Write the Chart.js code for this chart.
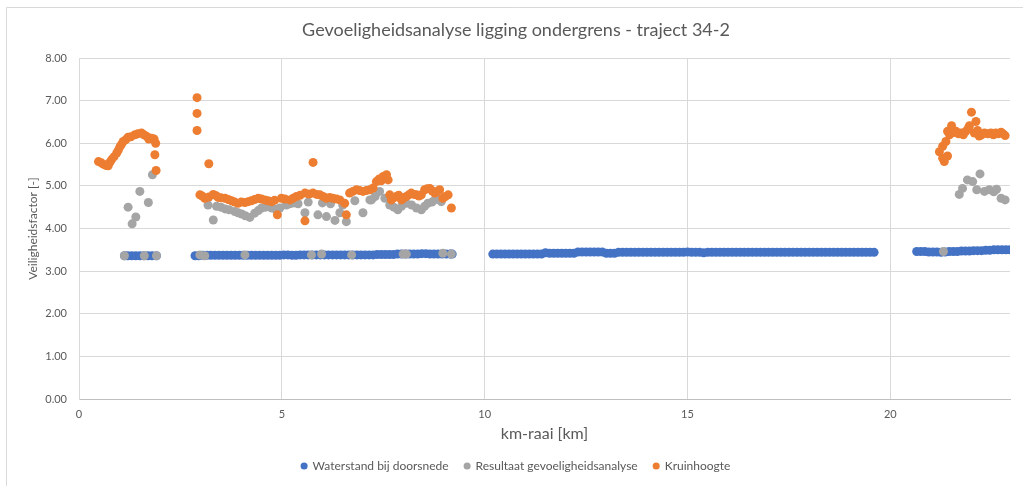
<!DOCTYPE html>
<html>
<head>
<meta charset="utf-8">
<script src="https://cdn.jsdelivr.net/npm/chart.js@4.4.1/dist/chart.umd.min.js"></script>
<style>
  html, body { margin: 0; padding: 0; background: #fff; }
  #wrap { position: relative; width: 1023px; height: 486px; }
</style>
</head>
<body>
<div id="wrap"><canvas id="chart"></canvas></div>
<script>
// km-raai per punt en veiligheidsfactor
const waterstandKm = [
  1.12, 1.2, 1.3, 1.4, 1.5, 1.6, 1.7, 1.8, 1.91,
  2.86, 2.95, 3.05, 3.15, 3.25, 3.35, 3.45, 3.55, 3.65, 3.75, 3.85, 3.95, 4.05, 4.15, 4.25, 4.35,
  4.45, 4.55, 4.65, 4.75, 4.85, 4.95, 5.05, 5.15, 5.25, 5.35, 5.45,
  5.55, 5.65, 5.75, 5.85, 5.95, 6.05, 6.15, 6.25, 6.35, 6.45, 6.55, 6.65, 6.75, 6.85, 6.95, 7.05,
  7.15, 7.25, 7.35, 7.45,
  7.55, 7.65, 7.75, 7.85, 7.95, 8.05, 8.15, 8.25, 8.35, 8.45, 8.55, 8.65, 8.75, 8.85, 8.95, 9.05,
  9.15, 9.2,
  10.2, 10.3, 10.4, 10.5, 10.6, 10.7, 10.8, 10.9, 11.0, 11.1, 11.2, 11.3, 11.4, 11.5, 11.6, 11.7,
  11.8, 11.9, 12.0, 12.1, 12.2, 12.3, 12.4, 12.5, 12.6, 12.7, 12.8, 12.9, 13.0, 13.1, 13.2, 13.3,
  13.4, 13.5, 13.6, 13.7, 13.8, 13.9, 14.0, 14.1, 14.2, 14.3, 14.4, 14.5, 14.6, 14.7, 14.8, 14.9,
  15.0, 15.1, 15.2, 15.3, 15.4, 15.5, 15.6, 15.7, 15.8, 15.9, 16.0, 16.1, 16.2, 16.3, 16.4, 16.5,
  16.6, 16.7, 16.8, 16.9, 17.0, 17.1, 17.2, 17.3, 17.4, 17.5, 17.6, 17.7, 17.8, 17.9, 18.0, 18.1,
  18.2, 18.3, 18.4, 18.5, 18.6, 18.7, 18.8, 18.9, 19.0, 19.1, 19.2, 19.3, 19.4, 19.5, 19.6,
  20.65, 20.75, 20.85, 20.95, 21.05, 21.15, 21.25, 21.35, 21.45, 21.55, 21.65, 21.75, 21.85, 21.95,
  22.05, 22.15, 22.25, 22.35, 22.45, 22.55, 22.65, 22.75, 22.85, 22.95
];
const waterstandFactor = [
  3.36, 3.36, 3.36, 3.36, 3.36, 3.36, 3.36, 3.36, 3.36,
  3.36, 3.36, 3.37, 3.37, 3.37, 3.37, 3.37, 3.37, 3.37, 3.37, 3.37, 3.37, 3.37, 3.37, 3.37, 3.37,
  3.37, 3.37, 3.37, 3.37, 3.37, 3.37, 3.38, 3.38, 3.37, 3.37, 3.38,
  3.38, 3.38, 3.38, 3.38, 3.38, 3.38, 3.38, 3.38, 3.38, 3.38, 3.38, 3.38, 3.38, 3.38, 3.38, 3.38,
  3.38, 3.38, 3.39, 3.39,
  3.39, 3.39, 3.39, 3.40, 3.40, 3.40, 3.40, 3.40, 3.40, 3.41, 3.41, 3.40, 3.40, 3.40, 3.40, 3.40,
  3.40, 3.40,
  3.40, 3.40, 3.40, 3.40, 3.40, 3.40, 3.40, 3.40, 3.40, 3.40, 3.40, 3.40, 3.40, 3.43, 3.42, 3.42,
  3.42, 3.42, 3.42, 3.42, 3.42, 3.45, 3.45, 3.45, 3.45, 3.45, 3.45, 3.45, 3.42, 3.42, 3.42, 3.44,
  3.44, 3.44, 3.44, 3.44, 3.44, 3.44, 3.44, 3.44, 3.44, 3.44, 3.44, 3.44, 3.44, 3.44, 3.44, 3.44,
  3.45, 3.44, 3.44, 3.44, 3.43, 3.44, 3.44, 3.44, 3.44, 3.44, 3.44, 3.44, 3.44, 3.44, 3.44, 3.44,
  3.44, 3.44, 3.44, 3.44, 3.44, 3.44, 3.44, 3.44, 3.44, 3.44, 3.44, 3.44, 3.44, 3.44, 3.44, 3.44,
  3.44, 3.44, 3.44, 3.44, 3.44, 3.44, 3.44, 3.44, 3.44, 3.44, 3.44, 3.44, 3.44, 3.44, 3.44,
  3.46, 3.46, 3.46, 3.45, 3.45, 3.45, 3.44, 3.45, 3.46, 3.46, 3.46, 3.47, 3.47, 3.47,
  3.48, 3.48, 3.48, 3.49, 3.49, 3.50, 3.50, 3.50, 3.50, 3.50
];

const resultaatKm = [
  1.12, 1.61, 1.91, 1.21, 1.31, 1.40, 1.50, 1.71, 1.81,
  2.98, 3.10, 4.09, 5.73, 5.98, 6.72, 7.99, 8.07, 8.97, 9.18,
  3.18, 3.31, 3.39, 3.50, 3.60, 3.70, 3.84, 3.92, 4.01, 4.10, 4.21, 4.33, 4.42, 4.50, 4.60, 4.75,
  4.85, 4.95, 5.11, 5.20, 5.30, 5.40, 5.57, 5.65, 5.89, 6.00, 6.10, 6.20, 6.31, 6.43, 6.50, 6.59,
  6.80, 7.00, 7.17, 7.21, 7.30, 7.41, 7.54, 7.66, 7.76, 7.86, 7.95, 8.07, 8.20, 8.32, 8.44, 8.52,
  8.60, 8.70, 8.77, 8.85, 8.93,
  21.31, 21.70, 21.78, 21.90, 22.03, 22.13, 22.21, 22.32, 22.44, 22.55, 22.62, 22.73, 22.83
];
const resultaatFactor = [
  3.36, 3.36, 3.36, 4.50, 4.11, 4.27, 4.87, 4.61, 5.26,
  3.38, 3.36, 3.38, 3.38, 3.40, 3.38, 3.40, 3.40, 3.42, 3.40,
  4.55, 4.20, 4.52, 4.50, 4.46, 4.44, 4.40, 4.37, 4.34, 4.30, 4.26, 4.36, 4.42, 4.48, 4.50, 4.48,
  4.45, 4.48, 4.55, 4.58, 4.60, 4.58, 4.37, 4.62, 4.32, 4.60, 4.28, 4.58, 4.19, 4.37, 4.55, 4.16,
  4.65, 4.37, 4.67, 4.67, 4.75, 4.87, 4.71, 4.55, 4.50, 4.44, 4.52, 4.59, 4.55, 4.48, 4.44, 4.52,
  4.59, 4.62, 4.67, 4.70, 4.63,
  3.46, 4.80, 4.94, 5.14, 5.10, 4.91, 5.28, 4.87, 4.91, 4.86, 4.92, 4.71, 4.67
];

const kruinKm = [
  0.48, 0.55, 0.60, 0.66, 0.72, 0.76, 0.80, 0.86, 0.93, 0.97, 1.01, 1.05, 1.09, 1.15, 1.21, 1.28,
  1.38, 1.45, 1.54, 1.60, 1.67, 1.72, 1.79, 1.85, 1.89, 1.87, 1.90,
  2.91, 2.91, 2.91, 3.20, 2.98, 3.04, 3.10, 3.20, 3.31, 3.38, 3.43, 3.50, 3.60, 3.68, 3.76, 3.84,
  3.92, 4.00, 4.09, 4.17, 4.25, 4.33, 4.42, 4.50, 4.58, 4.66, 4.75, 4.82, 4.89, 4.99, 5.08, 5.20,
  5.28, 5.36, 5.45, 5.57, 5.67, 5.77, 5.77, 5.57, 5.86, 5.94, 6.02, 6.10, 6.18, 6.26, 6.35, 6.43,
  6.55, 6.59, 6.67, 6.75, 6.84, 6.92, 7.00, 7.08, 7.17, 7.25, 7.33, 7.40, 7.45, 7.50, 7.58, 7.62,
  7.66, 7.70, 7.76, 7.82, 7.88, 7.95, 8.01, 8.07, 8.13, 8.19, 8.26, 8.32, 8.38, 8.44, 8.52, 8.58,
  8.65, 8.71, 8.77, 8.83, 8.89, 8.97, 9.03, 9.10, 9.18,
  21.21, 21.29, 21.33, 21.41, 21.29, 21.37, 21.41, 21.46, 21.51, 21.56, 21.62, 21.68, 21.74, 21.80,
  21.86, 21.92, 21.95, 22.00, 22.07, 22.11, 22.15, 22.19, 22.25, 22.32, 22.40, 22.48, 22.54, 22.60,
  22.66, 22.73, 22.78, 22.83
];
const kruinFactor = [
  5.57, 5.54, 5.51, 5.48, 5.47, 5.55, 5.61, 5.68, 5.77, 5.84, 5.92, 5.98, 6.04, 6.08, 6.14, 6.15,
  6.20, 6.22, 6.24, 6.20, 6.16, 6.10, 6.12, 6.10, 6.00, 5.73, 5.36,
  7.07, 6.70, 6.30, 5.52, 4.79, 4.76, 4.71, 4.74, 4.80, 4.77, 4.73, 4.72, 4.71, 4.68, 4.65, 4.62,
  4.59, 4.62, 4.61, 4.63, 4.65, 4.68, 4.71, 4.69, 4.67, 4.65, 4.63, 4.66, 4.32, 4.71, 4.69, 4.67,
  4.71, 4.75, 4.78, 4.83, 4.81, 4.83, 5.55, 4.18, 4.80, 4.79, 4.75, 4.71, 4.73, 4.71, 4.69, 4.67,
  4.59, 4.32, 4.83, 4.87, 4.91, 4.89, 4.87, 4.89, 4.91, 4.95, 5.10, 5.16, 5.12, 5.22, 5.26, 5.14,
  4.79, 4.67, 4.72, 4.75, 4.78, 4.67, 4.72, 4.75, 4.79, 4.83, 4.80, 4.79, 4.76, 4.79, 4.91, 4.93,
  4.94, 4.88, 4.83, 4.87, 4.91, 4.71, 4.75, 4.79, 4.48,
  5.80, 5.65, 5.57, 5.70, 5.93, 6.04, 6.28, 6.20, 6.41, 6.25, 6.28, 6.22, 6.24, 6.20,
  6.28, 6.35, 6.41, 6.73, 6.24, 6.51, 6.30, 6.17, 6.20, 6.24, 6.22, 6.24, 6.20, 6.24,
  6.22, 6.26, 6.22, 6.18
];

const yTicks = [0, 1, 2, 3, 4, 5, 6, 7, 8];
const xTicks = [0, 5, 10, 15, 20];

const textColor = '#595959';
const gridColor = '#d9d9d9';
const fontFamily = 'Lato, "Liberation Sans", sans-serif';

function toPoints(xs, ys) {
  return xs.map((x, i) => ({ x: x, y: ys[i] }));
}

// grijze rand van het Excel-grafiekvlak
const chartFrame = {
  id: 'chartFrame',
  beforeDraw(chart) {
    const { ctx, width, height } = chart;
    ctx.save();
    ctx.strokeStyle = gridColor;
    ctx.lineWidth = 1;
    ctx.beginPath();
    ctx.moveTo(6.5, height);
    ctx.lineTo(6.5, 7.5);
    ctx.lineTo(width, 7.5);
    ctx.stroke();
    ctx.restore();
  }
};

const series = [
  { label: 'Waterstand bij doorsnede', xs: waterstandKm, ys: waterstandFactor, color: '#4472C4', order: 3 },
  { label: 'Resultaat gevoeligheidsanalyse', xs: resultaatKm, ys: resultaatFactor, color: '#A5A5A5', order: 2 },
  { label: 'Kruinhoogte', xs: kruinKm, ys: kruinFactor, color: '#ED7D31', order: 1 }
];

new Chart(document.getElementById('chart'), {
  type: 'scatter',
  data: {
    datasets: series.map(s => ({
      label: s.label,
      data: toPoints(s.xs, s.ys),
      backgroundColor: s.color,
      borderColor: s.color,
      borderWidth: 0,
      pointRadius: 4.5,
      pointHoverRadius: 4.5,
      order: s.order
    }))
  },
  options: {
    responsive: true,
    maintainAspectRatio: false,
    animation: false,
    layout: { padding: { left: 22, right: 13, top: 0, bottom: 4 } },
    plugins: {
      title: {
        display: true,
        text: 'Gevoeligheidsanalyse ligging ondergrens - traject 34-2',
        color: textColor,
        font: { family: fontFamily, size: 18, weight: 'normal' },
        padding: { top: 19, bottom: 17.4 }
      },
      legend: {
        position: 'bottom',
        labels: {
          color: textColor,
          font: { family: fontFamily, size: 12 },
          usePointStyle: true,
          pointStyle: 'circle',
          boxWidth: 5,
          boxHeight: 5,
          padding: 16,
          sort: (a, b) => a.datasetIndex - b.datasetIndex
        }
      },
      tooltip: { enabled: false }
    },
    scales: {
      x: {
        type: 'linear',
        min: 0,
        max: 22.95,
        afterBuildTicks: scale => { scale.ticks = xTicks.map(v => ({ value: v })); },
        afterFit: scale => { scale.height = 45; },
        ticks: {
          color: textColor,
          font: { family: fontFamily, size: 11 },
          padding: 9
        },
        grid: { color: gridColor, drawTicks: false },
        border: { color: '#bfbfbf' },
        title: {
          display: true,
          text: 'km-raai [km]',
          color: textColor,
          font: { family: fontFamily, size: 16, lineHeight: 1 },
          padding: { top: 0, bottom: 2 }
        }
      },
      y: {
        type: 'linear',
        min: 0,
        max: 8,
        afterBuildTicks: scale => { scale.ticks = yTicks.map(v => ({ value: v })); },
        afterFit: scale => { scale.width = 57; },
        ticks: {
          color: textColor,
          font: { family: fontFamily, size: 11 },
          padding: 12,
          callback: v => v.toFixed(2)
        },
        grid: { color: gridColor, drawTicks: false },
        border: { color: gridColor },
        title: {
          display: true,
          text: 'Veiligheidsfactor [-]',
          color: textColor,
          font: { family: fontFamily, size: 12 },
          padding: { top: 4, bottom: 4 }
        }
      }
    }
  },
  plugins: [chartFrame]
});
</script>
</body>
</html>
